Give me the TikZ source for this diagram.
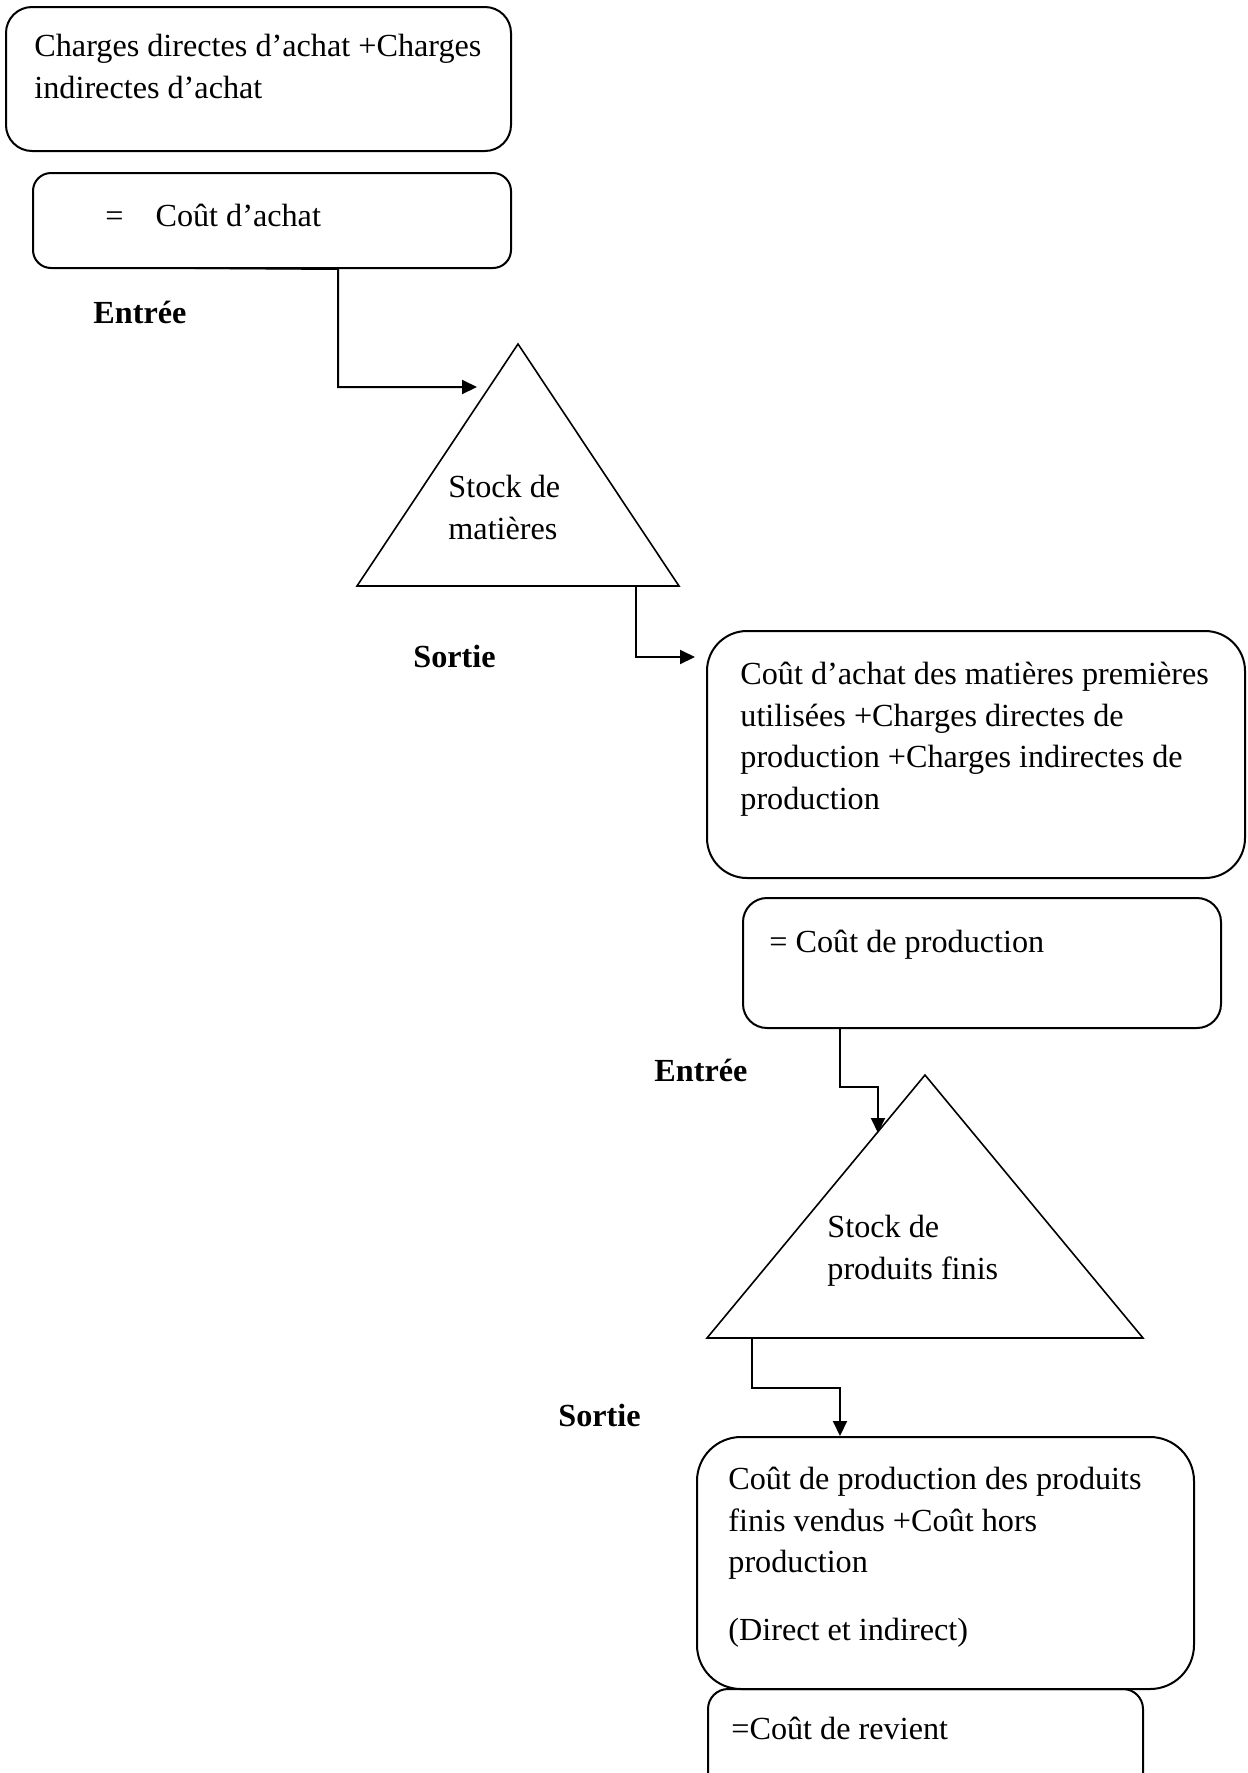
\documentclass[tikz,border=0pt]{standalone}
\usepackage{fontspec}
\setmainfont{Liberation Serif}
\usetikzlibrary{arrows.meta,fit}
\begin{document}
\begin{tikzpicture}[x=0.5pt,y=-0.5pt,
  box/.style={draw,line width=1pt,inner sep=0pt},
  txt/.style={anchor=north west,inner sep=0pt,align=left,
    font=\fontsize{16.1pt}{20.75pt}\selectfont,execute at begin node=\strut},
  lbl/.style={anchor=base west,inner sep=0pt,
    font=\fontsize{16.1pt}{20.75pt}\selectfont\bfseries},
  tri/.style={draw,line width=0.8pt,line join=miter},
  link/.style={draw,line width=1pt,-{Triangle[length=7.5pt,width=7pt]}}]
\fill[white] (0,0) rectangle (1248,1773);
\useasboundingbox (0,0) rectangle (1248,1773);

% cost boxes
\node[box,rounded corners=13pt,fit={(6,7) (511,151)}] (b1) {};
\node[box,rounded corners=9pt,fit={(33,173) (511,268)}] (b2) {};
\node[box,rounded corners=20pt,fit={(707,631) (1245,878)}] (b3) {};
\node[box,rounded corners=12pt,fit={(743,898) (1221,1028)}] (b4) {};
\node[box,rounded corners=22pt,fit={(697,1437) (1194,1689)}] (b5) {};
\node[box,rounded corners=10pt,fit={(708,1689) (1143,1800)}] (b6) {};

\node[txt] (t1) at (34,34) {Charges directes d’achat +Charges\\indirectes d’achat};
\node[txt] (t2) at (105,197) {=\hspace{16pt}Coût d’achat};
\node[txt] (t3) at (740,662) {Coût d’achat des matières premières\\utilisées +Charges directes de\\production +Charges indirectes de\\production};
\node[txt] (t4) at (769,923) {= Coût de production};
\node[txt] (t5) at (728,1467) {Coût de production des produits\\finis vendus +Coût hors\\production\\[13.25pt](Direct et indirect)};
\node[txt] (t6) at (731,1710) {=Coût de revient};

% stock triangles
\draw[tri] (518,344) coordinate (s1top) -- (357,586) coordinate (s1l)
  -- (679,586) coordinate (s1r) -- cycle;
\node[txt] (s1txt) at (448,475) {Stock de\\matières};
\draw[tri] (925,1075) coordinate (s2top) -- (707,1338) coordinate (s2l)
  -- (1143,1338) coordinate (s2r) -- cycle;
\node[txt] (s2txt) at (827,1215) {Stock de\\produits finis};

% flow labels
\node[lbl] (in1) at (93,323) {Entrée};
\node[lbl] (out1) at (413,667) {Sortie};
\node[lbl] (in2) at (654,1081) {Entrée};
\node[lbl] (out2) at (558,1426) {Sortie};

% flow connectors
\coordinate (c1) at (195,268);
\coordinate (e1) at (477,387);
\draw[link] (c1) -- (b2.south -| 338,0) |- (e1);

\coordinate (c2) at (575,586);
\coordinate (e2) at (695,657);
\draw[link] (c2) -- (s1l -| 636,0) |- (e2);

\coordinate (e3) at (878,1133);
\draw[link] (b4.south -| 840,0) -- (840,1087) -| (e3);

\draw[link] (s2l -| 752,0) -- (752,1388) -| (b5.north -| 840,0);
\end{tikzpicture}
\end{document}
